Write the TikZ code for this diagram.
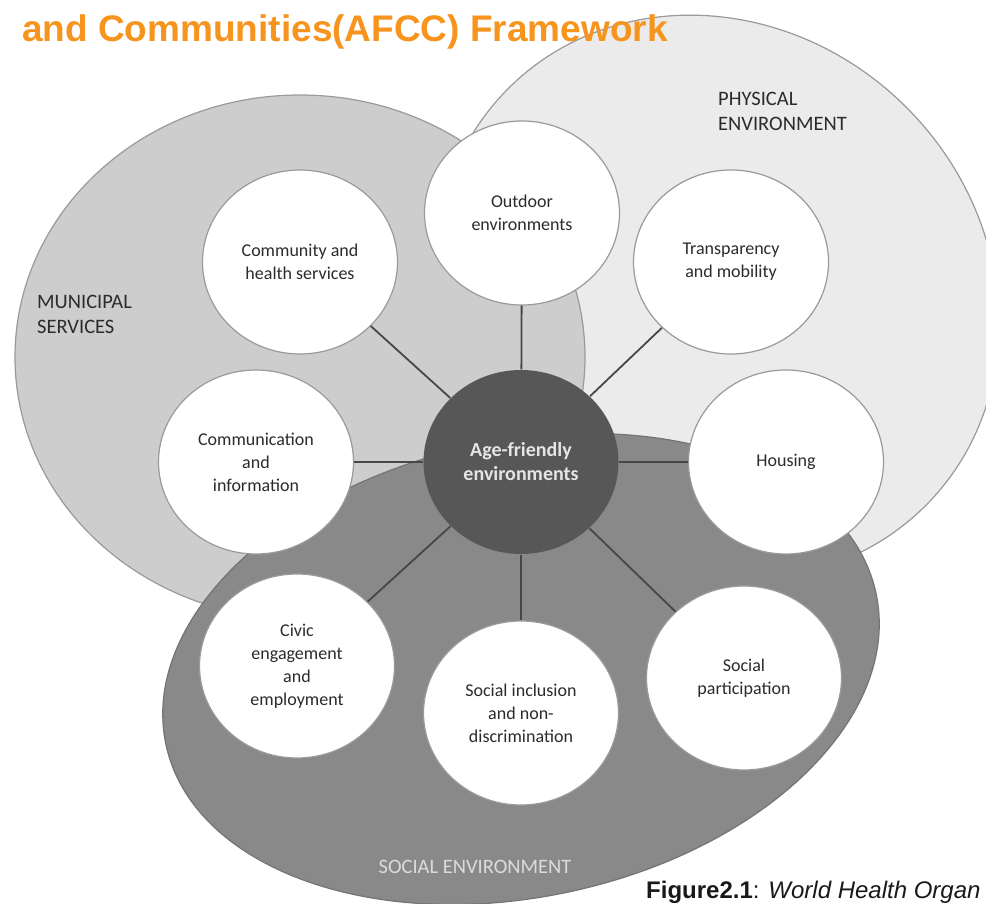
\documentclass[tikz,border=0pt]{standalone}
\usepackage{fontspec}
\setmainfont{Carlito}
\newfontfamily\arialfont{Liberation Sans}
\usetikzlibrary{shapes.geometric}
\definecolor{physgray}{HTML}{EBEBEB}
\definecolor{munigray}{HTML}{CDCDCD}
\definecolor{socgray}{HTML}{898989}
\definecolor{hubgray}{HTML}{575757}
\definecolor{edgegray}{HTML}{9A9A9A}
\definecolor{linegray}{HTML}{474747}
\definecolor{textgray}{HTML}{2B2B2B}
\definecolor{afccorange}{HTML}{F7941D}

\begin{document}
\begin{tikzpicture}[x=1pt, y=-1pt,
        zoneshape/.style={draw=edgegray, line width=1.2pt},
        topic/.style={ellipse, draw=edgegray, line width=1.2pt, fill=white,
            minimum width=195pt, minimum height=184pt, inner sep=0pt,
            align=center, text=textgray, font=\fontsize{18}{23}\selectfont},
        hub/.style={topic, draw=none, fill=hubgray, text=white!90!black,
            font=\bfseries\fontsize{20}{24}\selectfont},
        spoke/.style={draw=linegray, line width=1.8pt},
        zonelabel/.style={align=left, inner sep=0pt, text=textgray,
            font=\fontsize{20.5}{25}\selectfont}]
        \useasboundingbox (0,0) rectangle (986,904);
        \clip (0,0) rectangle (986,904);
        \fill[white] (0,0) rectangle (986,904);

        % domains
        \draw[zoneshape, fill=physgray, rotate around={-45:(717,297)}] (717,297) ellipse [x radius=295, y radius=268];
        \draw[zoneshape, fill=munigray] (300,357) ellipse [x radius=285, y radius=262];
        \draw[zoneshape, fill=socgray, draw=socgray!85!black, rotate around={12:(521,669)}] (521,669) ellipse [x radius=363, y radius=228];

        \node[anchor=base west, inner sep=0pt, text=afccorange,
            font=\arialfont\bfseries\fontsize{37}{40}\selectfont] (title) at (22,42) {and Communities(AFCC) Framework};

        % topics
        \node[hub] (hub) at (521,462) {Age-friendly\\environments};
        \node[topic] (outdoor) at (522,213) {Outdoor\\environments};
        \node[topic] (community) at (300,262) {Community and\\health services};
        \node[topic] (transport) at (731,262) {Transparency\\and mobility};
        \node[topic] (communication) at (256,462) {Communication\\and\\information};
        \node[topic] (housing) at (786,462) {Housing};
        \node[topic] (civic) at (297,666) {Civic\\engagement\\and\\employment};
        \node[topic] (inclusion) at (521,713) {Social inclusion\\and non-\\discrimination};
        \node[topic] (participation) at (744,678) {Social\\participation};

        \foreach \t in {outdoor,community,transport,communication,housing,civic,inclusion,participation}
            \draw[spoke] (hub) -- (\t);

        % domain names
        \node[zonelabel, anchor=north west] (municipal) at (37,295) {MUNICIPAL\\SERVICES};
        \node[zonelabel, anchor=north west] (physical) at (718,92) {PHYSICAL\\ENVIRONMENT};
        \node[zonelabel, anchor=base, text=white!86!black] (social) at (475,873) {SOCIAL ENVIRONMENT};

        \node[anchor=base west, inner sep=0pt, text=black!90,
            font=\arialfont\fontsize{24}{26}\selectfont] (caption) at (646,898)
            {\textbf{Figure2.1}: \textit{World Health Organ}};
    \end{tikzpicture}
\end{document}
